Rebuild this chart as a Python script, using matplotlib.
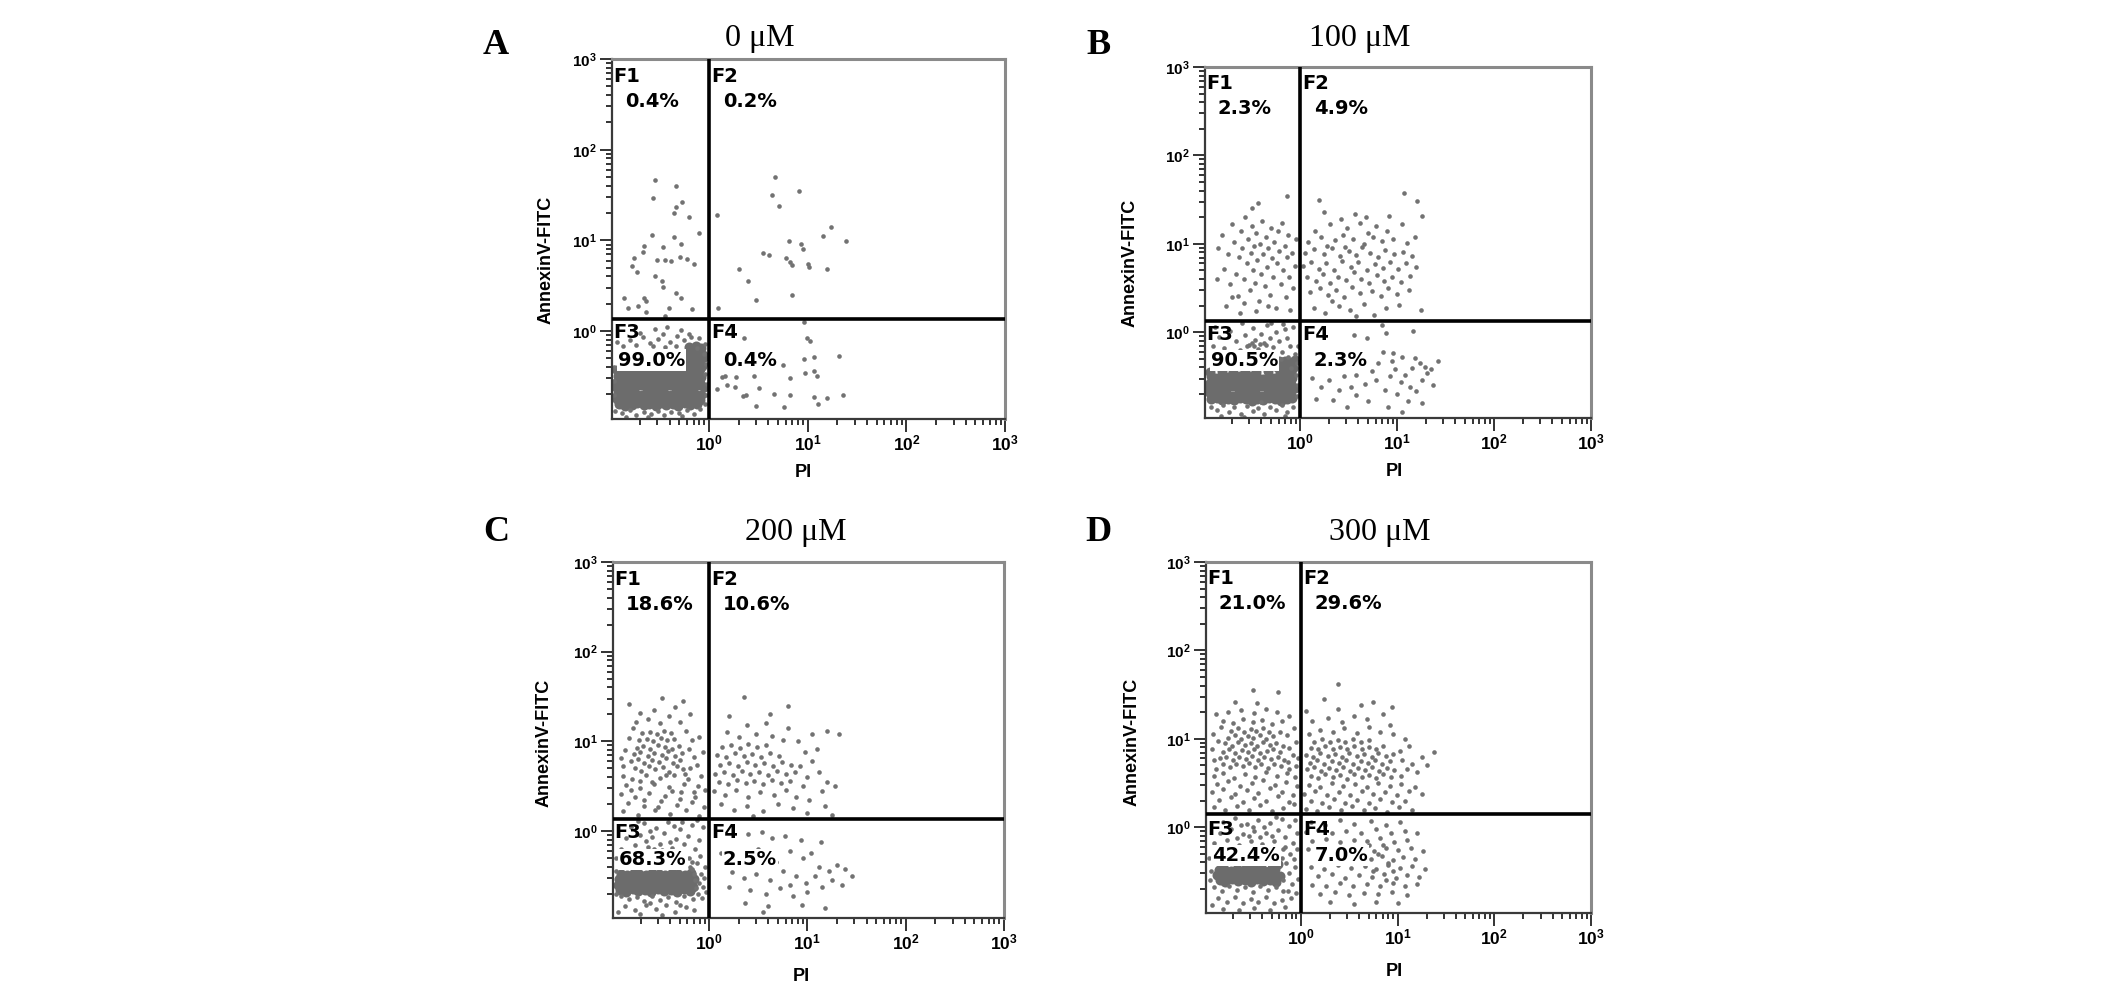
import numpy as np
import matplotlib.pyplot as plt
from matplotlib.ticker import LogLocator, NullFormatter

plt.rcParams['mathtext.fontset'] = 'custom'
plt.rcParams['mathtext.bf'] = 'Liberation Sans:bold'
plt.rcParams['mathtext.rm'] = 'Liberation Sans'

# ---------------------- DATA ----------------------
# every event is (log10 PI, log10 AnnexinV-FITC)

titles = ["0 \u03bcM", "100 \u03bcM", "200 \u03bcM", "300 \u03bcM"]
letters = ["A", "B", "C", "D"]
quadrants = ["F1", "F2", "F3", "F4"]
pct_a = ["0.4%", "0.2%", "99.0%", "0.4%"]
pct_b = ["2.3%", "4.9%", "90.5%", "2.3%"]
pct_c = ["18.6%", "10.6%", "68.3%", "2.5%"]
pct_d = ["21.0%", "29.6%", "42.4%", "7.0%"]
gate_pi = [0.0, 0.0, 0.0, 0.0]          # log10 of vertical gate
gate_annexin = [0.13, 0.13, 0.13, 0.15]  # log10 of horizontal gate

# ---- panel A (0 uM)
a_f1 = [(-0.55,1.67),(-0.33,1.60),(-0.57,1.47),(-0.27,1.42),(-0.33,1.37),(-0.35,1.30),(-0.20,1.26),
        (-0.10,1.08),(-0.58,1.06),(-0.35,1.04),(-0.66,0.94),(-0.46,0.93),(-0.28,0.96),(-0.76,0.81),
        (-0.67,0.87),(-0.53,0.78),(-0.44,0.78),(-0.38,0.77),(-0.29,0.82),(-0.22,0.80),(-0.15,0.74),
        (-0.78,0.72),(-0.73,0.65),(-0.55,0.61),(-0.47,0.55),(-0.46,0.49),(-0.33,0.42),(-0.28,0.37),
        (-0.86,0.37),(-0.66,0.37),(-0.64,0.33),(-0.82,0.25),(-0.72,0.28),(-0.40,0.25),(-0.17,0.24),
        (-0.64,0.21),(-0.44,0.17)]
a_f2 = [(0.08,1.28),(0.67,1.70),(0.64,1.50),(0.71,1.38),(0.91,1.54),(1.24,1.15),(1.16,1.05),(1.39,0.99),
        (0.81,0.99),(0.93,0.96),(0.95,0.91),(0.55,0.86),(0.61,0.84),(0.78,0.81),(0.82,0.76),(0.84,0.73),
        (1.00,0.74),(1.01,0.71),(1.20,0.68),(0.31,0.68),(0.40,0.55),(0.48,0.34),(0.84,0.40),(0.09,0.25)]
a_f4 = [(0.36,-0.08),(0.99,-0.08),(1.02,-0.11),(1.06,-0.29),(0.96,-0.31),(1.32,-0.27),(0.75,-0.37),
        (0.16,-0.49),(0.13,-0.51),(0.27,-0.51),(0.46,-0.50),(0.18,-0.60),(0.08,-0.64),(0.26,-0.62),
        (0.51,-0.63),(0.82,-0.52),(0.97,-0.46),(1.06,-0.44),(1.09,-0.49),(0.35,-0.72),(0.38,-0.70),
        (0.66,-0.69),(0.82,-0.71),(1.06,-0.73),(1.20,-0.74),(1.36,-0.70),(0.48,-0.83),(0.76,-0.84),
        (1.10,-0.80),(0.96,0.10)]
a_f3 = [(-0.95,-0.88),(-0.88,-0.90),(-0.80,-0.87),(-0.74,-0.92),(-0.66,-0.89),(-0.59,-0.91),(-0.51,-0.88),
        (-0.45,-0.93),(-0.38,-0.89),(-0.30,-0.90),(-0.22,-0.87),(-0.15,-0.91),(-0.09,-0.86),(-0.04,-0.80),
        (-0.03,-0.70),(-0.02,-0.58),(-0.04,-0.47),(-0.03,-0.36),(-0.05,-0.25),(-0.04,-0.14),(-0.10,-0.08),
        (-0.18,-0.06),(-0.25,-0.10),(-0.32,-0.05),(-0.39,-0.12),(-0.46,-0.03),(-0.52,-0.09),(-0.60,-0.13),
        (-0.67,-0.06),(-0.74,-0.15),(-0.80,-0.10),(-0.87,-0.16),(-0.93,-0.12),(-0.55,0.02),(-0.42,0.05),
        (-0.28,0.01),(-0.70,-0.02),(-0.96,-0.70),(-0.96,-0.55),(-0.96,-0.40),(-0.57,-0.17),(-0.44,-0.18),
        (-0.33,-0.16),(-0.20,-0.03),(-0.12,-0.19),(-0.84,-0.95),(-0.62,-0.95),(-0.27,-0.94)]
a_f3_dense = [
    (-0.91,-0.80),(-0.85,-0.83),(-0.78,-0.81),(-0.73,-0.79),(-0.66,-0.82),(-0.61,-0.80),(-0.54,-0.83),
    (-0.48,-0.79),(-0.43,-0.82),(-0.36,-0.80),(-0.31,-0.83),(-0.24,-0.79),(-0.19,-0.81),(-0.12,-0.80),
    (-0.93,-0.75),(-0.87,-0.73),(-0.81,-0.76),(-0.75,-0.74),(-0.69,-0.76),(-0.63,-0.73),(-0.57,-0.75),
    (-0.51,-0.77),(-0.45,-0.74),(-0.39,-0.76),(-0.33,-0.73),(-0.27,-0.75),(-0.21,-0.77),(-0.15,-0.74),
    (-0.09,-0.76),(-0.92,-0.68),(-0.86,-0.70),(-0.80,-0.67),(-0.74,-0.69),(-0.68,-0.71),(-0.62,-0.68),
    (-0.56,-0.70),(-0.50,-0.67),(-0.44,-0.69),(-0.38,-0.71),(-0.32,-0.68),(-0.26,-0.70),(-0.20,-0.67),
    (-0.14,-0.69),(-0.08,-0.70),(-0.94,-0.62),(-0.88,-0.64),(-0.82,-0.61),(-0.76,-0.63),(-0.70,-0.60),
    (-0.64,-0.62),(-0.58,-0.64),(-0.52,-0.61),(-0.46,-0.63),(-0.40,-0.60),(-0.34,-0.62),(-0.28,-0.64),
    (-0.22,-0.61),(-0.16,-0.63),(-0.10,-0.60),(-0.05,-0.62),(-0.93,-0.56),(-0.87,-0.54),(-0.81,-0.57),
    (-0.75,-0.55),(-0.69,-0.57),(-0.63,-0.54),(-0.57,-0.56),(-0.51,-0.58),(-0.45,-0.55),(-0.39,-0.57),
    (-0.33,-0.54),(-0.27,-0.56),(-0.21,-0.58),(-0.15,-0.55),(-0.09,-0.57),(-0.92,-0.49),(-0.86,-0.51),
    (-0.80,-0.48),(-0.74,-0.50),(-0.68,-0.52),(-0.62,-0.49),(-0.56,-0.51),(-0.50,-0.48),(-0.44,-0.50),
    (-0.38,-0.52),(-0.32,-0.49),(-0.26,-0.51),(-0.20,-0.48),(-0.14,-0.50),(-0.08,-0.51),(-0.93,-0.43),
    (-0.87,-0.45),(-0.81,-0.42),(-0.75,-0.44),(-0.69,-0.43),(-0.63,-0.45),(-0.57,-0.42),(-0.51,-0.44),
    (-0.45,-0.43),(-0.39,-0.45),(-0.33,-0.42),(-0.27,-0.44),(-0.21,-0.43),(-0.15,-0.45),(-0.09,-0.42),
    (-0.24,-0.37),(-0.18,-0.39),(-0.12,-0.36),(-0.07,-0.38),(-0.22,-0.31),(-0.16,-0.30),(-0.10,-0.32),
    (-0.05,-0.29),(-0.23,-0.24),(-0.17,-0.25),(-0.11,-0.23),(-0.06,-0.26),(-0.20,-0.18),(-0.13,-0.17),
    (-0.08,-0.19)]

# ---- panel B (100 uM)
b_f1 = [(-0.85,0.95),(-0.80,1.10),(-0.78,0.72),(-0.74,0.88),(-0.72,0.55),(-0.70,1.22),(-0.68,1.02),
        (-0.66,0.66),(-0.64,0.41),(-0.63,0.85),(-0.61,1.15),(-0.60,0.95),(-0.58,0.60),(-0.57,1.30),
        (-0.55,0.78),(-0.54,1.05),(-0.52,0.48),(-0.51,0.90),(-0.50,1.20),(-0.49,0.70),(-0.47,0.98),
        (-0.46,0.56),(-0.45,1.12),(-0.44,0.82),(-0.42,0.35),(-0.41,1.00),(-0.40,0.66),(-0.39,1.26),
        (-0.38,0.88),(-0.36,0.52),(-0.35,1.08),(-0.34,0.74),(-0.33,0.95),(-0.31,0.42),(-0.30,1.18),
        (-0.29,0.84),(-0.28,0.62),(-0.27,1.02),(-0.25,0.28),(-0.24,0.78),(-0.23,1.14),(-0.22,0.92),
        (-0.20,0.55),(-0.19,1.24),(-0.18,0.70),(-0.16,0.98),(-0.15,0.40),(-0.14,0.85),(-0.12,1.10),
        (-0.11,0.62),(-0.10,0.25),(-0.08,0.90),(-0.07,0.50),(-0.05,0.75),(-0.04,1.05),(-0.62,0.22),
        (-0.45,0.24),(-0.33,0.30),(-0.76,0.30),(-0.86,0.60),(-0.43,1.46),(-0.14,1.54),(-0.50,1.40),
        (-0.70,0.40),(-0.58,0.33)]
b_f2 = [(0.20,1.50),(1.07,1.58),(1.21,1.48),(0.25,1.36),(0.57,1.34),(0.68,1.30),(0.92,1.32),(1.26,1.31),
        (0.42,1.28),(0.31,1.22),(0.48,1.18),(0.62,1.24),(0.78,1.20),(0.90,1.15),(1.05,1.22),(0.15,1.15),
        (0.70,1.12),(0.08,1.02),(0.22,1.08),(0.36,1.04),(0.44,1.10),(0.55,1.06),(0.66,1.00),(0.75,1.08),
        (0.84,1.03),(0.96,1.06),(1.10,1.01),(1.18,1.08),(0.28,0.98),(0.05,0.90),(0.14,0.94),(0.25,0.88),
        (0.33,0.95),(0.41,0.86),(0.50,0.92),(0.58,0.87),(0.64,0.96),(0.72,0.90),(0.80,0.85),(0.88,0.93),
        (0.97,0.88),(1.06,0.91),(1.15,0.86),(0.46,0.97),(0.03,0.75),(0.11,0.80),(0.19,0.72),(0.27,0.78),
        (0.35,0.70),(0.43,0.81),(0.52,0.74),(0.60,0.79),(0.69,0.71),(0.77,0.77),(0.85,0.73),(0.93,0.80),
        (1.01,0.72),(1.09,0.78),(1.20,0.74),(0.56,0.68),(0.07,0.62),(0.16,0.58),(0.24,0.66),(0.31,0.56),
        (0.39,0.63),(0.47,0.59),(0.63,0.60),(0.71,0.56),(0.79,0.65),(0.87,0.58),(0.95,0.63),(1.04,0.57),
        (1.13,0.64),(0.10,0.45),(0.21,0.50),(0.29,0.42),(0.37,0.48),(0.45,0.40),(0.54,0.51),(0.62,0.44),
        (0.74,0.47),(0.83,0.41),(0.91,0.50),(1.00,0.43),(1.12,0.48),(0.14,0.28),(0.26,0.22),(0.40,0.30),
        (0.51,0.25),(0.66,0.32),(0.76,0.20),(0.89,0.27),(1.02,0.31),(0.58,0.18),(0.33,0.35),(1.25,0.25)]
b_f4 = [(0.85,-0.22),(0.96,-0.24),(1.05,-0.28),(1.18,-0.29),(1.24,-0.35),(1.29,-0.39),(1.35,-0.41),
        (1.42,-0.33),(0.12,-0.52),(0.30,-0.54),(0.45,-0.50),(0.52,-0.62),(0.67,-0.58),(0.78,-0.54),
        (0.93,-0.50),(1.04,-0.56),(1.13,-0.62),(1.26,-0.54),(1.31,-0.46),(0.16,-0.75),(0.34,-0.77),
        (0.58,-0.71),(0.91,-0.84),(1.11,-0.78),(1.26,-0.80),(0.89,-0.01),(0.84,0.08),(1.16,0.01),
        (0.56,-0.03),(0.69,-0.06),(0.62,-0.40),(0.74,-0.44),(0.98,-0.42),(1.08,-0.48),(0.88,-0.65),
        (1.00,-0.70),(1.20,-0.66),(0.40,-0.65),(0.22,-0.62),(0.70,-0.78),(0.80,-0.35),(1.15,-0.40),
        (0.95,-0.33),(0.58,-0.48),(0.28,-0.40),(1.37,-0.60),(0.48,-0.84),(1.05,-0.90)]
b_f3 = [(-0.92,-0.84),(-0.86,-0.88),(-0.79,-0.82),(-0.73,-0.90),(-0.68,-0.85),(-0.61,-0.92),(-0.55,-0.83),
        (-0.49,-0.89),(-0.43,-0.86),(-0.37,-0.93),(-0.31,-0.84),(-0.25,-0.88),(-0.19,-0.82),(-0.13,-0.90),
        (-0.07,-0.85),(-0.82,-0.95),(-0.58,-0.96),(-0.40,-0.79),(-0.16,-0.95),(-0.03,-0.72),(-0.02,-0.60),
        (-0.04,-0.48),(-0.03,-0.35),(-0.05,-0.25),(-0.02,-0.15),(-0.90,-0.15),(-0.84,-0.05),(-0.78,-0.18),
        (-0.72,0.02),(-0.66,-0.10),(-0.62,-0.20),(-0.57,-0.03),(-0.53,-0.14),(-0.49,0.05),(-0.46,-0.09),
        (-0.43,-0.19),(-0.40,-0.02),(-0.37,-0.12),(-0.34,0.08),(-0.31,-0.06),(-0.28,-0.17),(-0.25,0.00),
        (-0.22,-0.10),(-0.19,-0.22),(-0.16,0.04),(-0.13,-0.07),(-0.10,-0.16),(-0.07,0.06),(-0.50,-0.12),
        (-0.41,-0.13),(-0.55,-0.16),(-0.47,-0.15),(-0.35,-0.14),(-0.60,0.10),(-0.30,0.11),(-0.18,0.09),
        (-0.88,0.06),(-0.64,-0.26),(-0.20,-0.30),(-0.12,-0.28),(-0.09,-0.40)]
b_f3_dense = [
    (-0.92,-0.76),(-0.86,-0.74),(-0.80,-0.77),(-0.74,-0.75),(-0.68,-0.77),(-0.62,-0.74),(-0.56,-0.76),
    (-0.50,-0.78),(-0.44,-0.75),(-0.38,-0.77),(-0.32,-0.74),(-0.26,-0.76),(-0.20,-0.78),(-0.14,-0.75),
    (-0.08,-0.74),(-0.93,-0.69),(-0.87,-0.71),(-0.81,-0.68),(-0.75,-0.70),(-0.69,-0.72),(-0.63,-0.69),
    (-0.57,-0.71),(-0.51,-0.68),(-0.45,-0.70),(-0.39,-0.72),(-0.33,-0.69),(-0.27,-0.71),(-0.21,-0.68),
    (-0.15,-0.70),(-0.09,-0.71),(-0.94,-0.63),(-0.88,-0.65),(-0.82,-0.62),(-0.76,-0.64),(-0.70,-0.61),
    (-0.64,-0.63),(-0.58,-0.65),(-0.52,-0.62),(-0.46,-0.64),(-0.40,-0.61),(-0.34,-0.63),(-0.28,-0.65),
    (-0.22,-0.62),(-0.16,-0.64),(-0.10,-0.61),(-0.05,-0.63),(-0.93,-0.57),(-0.87,-0.55),(-0.81,-0.58),
    (-0.75,-0.56),(-0.69,-0.58),(-0.63,-0.55),(-0.57,-0.57),(-0.51,-0.59),(-0.45,-0.56),(-0.39,-0.58),
    (-0.33,-0.55),(-0.27,-0.57),(-0.21,-0.59),(-0.15,-0.56),(-0.09,-0.58),(-0.92,-0.50),(-0.86,-0.52),
    (-0.80,-0.49),(-0.74,-0.51),(-0.68,-0.53),(-0.62,-0.50),(-0.56,-0.52),(-0.50,-0.49),(-0.44,-0.51),
    (-0.38,-0.53),(-0.32,-0.50),(-0.26,-0.52),(-0.20,-0.49),(-0.14,-0.51),(-0.08,-0.52),(-0.93,-0.45),
    (-0.81,-0.44),(-0.69,-0.45),(-0.57,-0.44),(-0.45,-0.45),(-0.33,-0.44),(-0.21,-0.45),(-0.15,-0.44),
    (-0.09,-0.45),(-0.24,-0.39),(-0.18,-0.41),(-0.12,-0.38),(-0.07,-0.40),(-0.22,-0.33),(-0.16,-0.32),
    (-0.10,-0.34),(-0.05,-0.31)]

# ---- panel C (200 uM)
c_f1 = [(-0.76,0.70),(-0.69,0.67),(-0.61,0.72),(-0.55,0.69),(-0.47,0.71),(-0.41,0.66),(-0.33,0.73),
        (-0.27,0.69),(-0.80,0.78),(-0.72,0.80),(-0.66,0.76),(-0.58,0.79),(-0.51,0.77),(-0.44,0.81),
        (-0.37,0.76),(-0.30,0.79),(-0.77,0.86),(-0.70,0.88),(-0.62,0.84),(-0.56,0.87),(-0.48,0.85),
        (-0.42,0.89),(-0.35,0.84),(-0.28,0.87),(-0.74,0.93),(-0.67,0.95),(-0.60,0.92),(-0.52,0.96),
        (-0.45,0.94),(-0.38,0.91),(-0.31,0.95),(-0.71,1.01),(-0.63,1.03),(-0.57,1.00),(-0.49,1.04),
        (-0.43,1.01),(-0.36,1.03),(-0.68,1.09),(-0.60,1.11),(-0.53,1.08),(-0.46,1.12),(-0.39,1.09),
        (-0.88,0.22),(-0.72,0.18),(-0.55,0.24),(-0.40,0.19),(-0.24,0.23),(-0.10,0.17),(-0.83,0.31),
        (-0.66,0.28),(-0.49,0.33),(-0.33,0.29),(-0.18,0.32),(-0.05,0.27),(-0.90,0.41),(-0.76,0.38),
        (-0.61,0.42),(-0.45,0.39),(-0.29,0.43),(-0.14,0.38),(-0.85,0.51),(-0.70,0.48),(-0.56,0.52),
        (-0.41,0.49),(-0.26,0.53),(-0.11,0.50),(-0.04,0.46),(-0.88,0.61),(-0.79,0.58),(-0.64,0.62),
        (-0.50,0.59),(-0.36,0.62),(-0.22,0.58),(-0.08,0.61),(-0.20,0.70),(-0.15,0.83),(-0.21,0.92),
        (-0.12,0.74),(-0.06,0.88),(-0.17,1.02),(-0.24,1.12),(-0.10,1.05),(-0.88,0.72),(-0.86,0.90),
        (-0.82,1.04),(-0.90,0.82),(-0.78,1.15),(-0.75,1.22),(-0.62,1.25),(-0.50,1.20),(-0.41,1.28),
        (-0.30,1.22),(-0.56,1.35),(-0.35,1.38),(-0.48,1.48),(-0.70,1.32),(-0.82,1.42),(-0.20,1.30),
        (-0.27,1.45),(-0.66,0.35),(-0.38,0.45),(-0.58,0.55),(-0.30,0.36),(-0.80,0.46),(-0.15,0.44),
        (-0.52,0.27),(-0.44,0.62),(-0.25,0.64),(-0.70,0.56)]
c_f2 = [(0.10,0.55),(0.19,0.53),(0.28,0.57),(0.37,0.54),(0.46,0.56),(0.55,0.52),(0.64,0.57),(0.73,0.54),
        (0.82,0.56),(0.06,0.64),(0.15,0.66),(0.24,0.63),(0.33,0.67),(0.42,0.64),(0.51,0.66),(0.60,0.62),
        (0.69,0.67),(0.78,0.64),(0.87,0.66),(0.11,0.74),(0.20,0.76),(0.29,0.73),(0.38,0.77),(0.47,0.74),
        (0.56,0.76),(0.65,0.73),(0.74,0.77),(0.83,0.74),(0.08,0.85),(0.17,0.83),(0.26,0.87),(0.35,0.84),
        (0.44,0.86),(0.53,0.83),(0.62,0.87),(0.71,0.84),(0.13,0.94),(0.22,0.96),(0.31,0.93),(0.40,0.97),
        (0.49,0.94),(0.58,0.96),(0.92,0.72),(1.00,0.60),(1.05,0.78),(0.95,0.50),(1.12,0.66),(1.20,0.55),
        (1.15,0.45),(1.28,0.50),(0.98,0.88),(1.10,0.92),(0.90,1.00),(0.75,1.02),(0.64,1.06),(0.48,1.08),
        (0.30,1.05),(0.18,1.10),(0.38,1.18),(0.58,1.20),(0.80,1.15),(1.05,1.08),(1.32,1.08),(1.20,1.12),
        (0.35,1.50),(0.80,1.40),(0.20,1.28),(0.62,1.30),(0.05,0.45),(0.16,0.40),(0.27,0.46),(0.40,0.38),
        (0.52,0.44),(0.66,0.40),(0.78,0.46),(0.88,0.38),(1.02,0.35),(0.12,0.30),(0.25,0.24),(0.38,0.28),
        (0.55,0.22),(0.70,0.30),(0.85,0.26),(1.00,0.20),(1.18,0.28),(0.45,0.17),(1.25,0.18)]
c_f4 = [(0.39,-0.03),(0.54,-0.01),(0.64,-0.08),(0.77,-0.05),(0.93,-0.10),(1.14,-0.12),(0.50,-0.20),
        (0.82,-0.22),(1.04,-0.24),(0.23,-0.46),(0.35,-0.52),(0.48,-0.48),(0.62,-0.55),(0.75,-0.44),
        (0.88,-0.50),(0.99,-0.58),(1.12,-0.40),(1.22,-0.45),(1.30,-0.38),(1.38,-0.42),(1.25,-0.55),
        (0.20,-0.62),(0.42,-0.66),(0.58,-0.70),(0.72,-0.64),(0.85,-0.72),(1.00,-0.68),(1.15,-0.62),
        (0.36,-0.80),(0.60,-0.84),(0.94,-0.82),(1.18,-0.86),(0.28,-0.32),(0.68,-0.35),(0.95,-0.30),
        (1.35,-0.60),(0.12,-0.25),(0.82,-0.60),(0.45,-0.38),(1.08,-0.50),(1.45,-0.50),(0.15,-0.40),
        (0.55,-0.90)]
c_f3 = [(-0.18,-0.42),(-0.12,-0.36),(-0.08,-0.48),(-0.14,-0.55),(-0.06,-0.62),(-0.11,-0.70),(-0.17,-0.34),
        (-0.04,-0.40),(-0.09,-0.28),(-0.20,-0.40),(-0.15,-0.48),(-0.10,-0.58),(-0.05,-0.52),(-0.13,-0.64),
        (-0.21,-0.30),(-0.07,-0.75),(-0.16,-0.76),(-0.03,-0.68),(-0.90,-0.72),(-0.82,-0.76),(-0.74,-0.73),
        (-0.66,-0.78),(-0.58,-0.72),(-0.50,-0.77),(-0.42,-0.74),(-0.34,-0.79),(-0.26,-0.72),(-0.86,-0.84),
        (-0.76,-0.88),(-0.64,-0.83),(-0.54,-0.87),(-0.44,-0.82),(-0.35,-0.90),(-0.24,-0.85),(-0.70,-0.93),
        (-0.48,-0.94),(-0.15,-0.88),(-0.93,-0.90),(-0.60,-0.80),(-0.30,-0.82),(-0.90,-0.20),(-0.85,-0.08),
        (-0.80,0.05),(-0.76,-0.16),(-0.70,-0.04),(-0.66,0.09),(-0.62,-0.18),(-0.58,-0.07),(-0.54,0.03),
        (-0.50,-0.14),(-0.46,-0.02),(-0.42,0.10),(-0.38,-0.19),(-0.34,-0.09),(-0.30,0.02),(-0.26,-0.15),
        (-0.22,-0.05),(-0.18,0.07),(-0.14,-0.20),(-0.10,-0.10),(-0.06,0.04),(-0.56,-0.20),(-0.48,-0.21),
        (-0.40,-0.12),(-0.32,-0.22),(-0.64,-0.11),(-0.72,0.11),(-0.28,0.10),(-0.12,0.12),(-0.44,-0.25),
        (-0.60,0.00),(-0.36,0.06),(-0.95,-0.70),(-0.95,-0.45),(-0.95,-0.30)]
c_f3_dense = [
    (-0.91,-0.66),(-0.85,-0.68),(-0.78,-0.65),(-0.72,-0.67),(-0.65,-0.66),(-0.59,-0.68),(-0.52,-0.65),
    (-0.46,-0.67),(-0.39,-0.66),(-0.33,-0.68),(-0.26,-0.65),(-0.20,-0.67),(-0.93,-0.60),(-0.87,-0.59),
    (-0.81,-0.61),(-0.74,-0.59),(-0.68,-0.60),(-0.61,-0.62),(-0.55,-0.59),(-0.48,-0.61),(-0.42,-0.60),
    (-0.35,-0.59),(-0.29,-0.61),(-0.22,-0.60),(-0.16,-0.62),(-0.92,-0.54),(-0.86,-0.55),(-0.79,-0.53),
    (-0.73,-0.54),(-0.66,-0.56),(-0.60,-0.53),(-0.53,-0.55),(-0.47,-0.54),(-0.40,-0.53),(-0.34,-0.55),
    (-0.27,-0.54),(-0.21,-0.56),(-0.15,-0.53),(-0.90,-0.48),(-0.84,-0.49),(-0.77,-0.47),(-0.71,-0.48),
    (-0.64,-0.49),(-0.58,-0.47),(-0.51,-0.48),(-0.45,-0.49),(-0.38,-0.47),(-0.32,-0.48),(-0.25,-0.49),
    (-0.19,-0.47)]

# ---- panel D (300 uM)
d_f1 = [(-0.80,0.71),(-0.73,0.68),(-0.67,0.72),(-0.60,0.69),(-0.54,0.73),(-0.47,0.68),(-0.41,0.71),
        (-0.34,0.67),(-0.28,0.72),(-0.21,0.69),(-0.84,0.78),(-0.77,0.80),(-0.70,0.76),(-0.64,0.79),
        (-0.57,0.77),(-0.51,0.81),(-0.44,0.76),(-0.38,0.80),(-0.31,0.77),(-0.24,0.79),(-0.17,0.76),
        (-0.81,0.85),(-0.74,0.88),(-0.68,0.84),(-0.61,0.87),(-0.55,0.85),(-0.48,0.88),(-0.42,0.84),
        (-0.35,0.86),(-0.29,0.89),(-0.22,0.85),(-0.78,0.95),(-0.71,0.92),(-0.65,0.96),(-0.58,0.93),
        (-0.52,0.95),(-0.45,0.92),(-0.39,0.96),(-0.32,0.93),(-0.26,0.95),(-0.19,0.92),(-0.75,1.01),
        (-0.68,1.04),(-0.62,1.00),(-0.55,1.03),(-0.49,1.01),(-0.42,1.04),(-0.36,1.00),(-0.29,1.03),
        (-0.72,1.09),(-0.65,1.12),(-0.59,1.08),(-0.52,1.11),(-0.46,1.09),(-0.39,1.12),(-0.33,1.08),
        (-0.90,0.23),(-0.78,0.19),(-0.66,0.24),(-0.54,0.20),(-0.42,0.25),(-0.30,0.18),(-0.18,0.22),
        (-0.07,0.26),(-0.85,0.31),(-0.72,0.34),(-0.60,0.29),(-0.48,0.33),(-0.36,0.30),(-0.24,0.35),
        (-0.12,0.29),(-0.92,0.40),(-0.80,0.43),(-0.68,0.38),(-0.56,0.42),(-0.44,0.39),(-0.32,0.44),
        (-0.20,0.40),(-0.08,0.37),(-0.87,0.49),(-0.75,0.52),(-0.63,0.47),(-0.51,0.50),(-0.39,0.53),
        (-0.27,0.48),(-0.15,0.51),(-0.04,0.47),(-0.90,0.58),(-0.80,0.61),(-0.69,0.56),(-0.58,0.60),
        (-0.47,0.57),(-0.36,0.62),(-0.25,0.58),(-0.14,0.61),(-0.06,0.57),(-0.88,0.66),(-0.12,0.66),
        (-0.05,0.69),(-0.13,0.74),(-0.08,0.82),(-0.12,0.90),(-0.05,0.97),(-0.14,1.04),(-0.07,1.12),
        (-0.22,1.08),(-0.03,0.78),(-0.90,0.76),(-0.92,0.88),(-0.86,0.98),(-0.91,1.06),(-0.83,1.13),
        (-0.80,1.20),(-0.70,1.18),(-0.60,1.22),(-0.50,1.19),(-0.40,1.21),(-0.30,1.17),(-0.20,1.20),
        (-0.75,1.30),(-0.62,1.33),(-0.48,1.29),(-0.36,1.34),(-0.25,1.30),(-0.12,1.26),(-0.68,1.42),
        (-0.45,1.40),(-0.49,1.55),(-0.24,1.53),(-0.88,1.28)]
d_f2 = [(0.10,0.58),(0.18,0.56),(0.25,0.60),(0.33,0.57),(0.40,0.59),(0.48,0.55),(0.55,0.60),(0.63,0.57),
        (0.70,0.59),(0.78,0.56),(0.85,0.60),(0.93,0.57),(0.06,0.66),(0.14,0.68),(0.21,0.64),(0.29,0.67),
        (0.36,0.65),(0.44,0.68),(0.51,0.64),(0.59,0.67),(0.66,0.65),(0.74,0.68),(0.81,0.64),(0.89,0.67),
        (0.96,0.65),(0.09,0.73),(0.17,0.76),(0.24,0.72),(0.32,0.75),(0.39,0.73),(0.47,0.76),(0.54,0.72),
        (0.62,0.75),(0.69,0.73),(0.77,0.76),(0.84,0.72),(0.92,0.75),(0.05,0.82),(0.13,0.80),(0.20,0.84),
        (0.28,0.81),(0.35,0.83),(0.43,0.80),(0.50,0.84),(0.58,0.81),(0.65,0.83),(0.73,0.80),(0.80,0.84),
        (0.88,0.81),(0.95,0.83),(0.10,0.90),(0.18,0.88),(0.25,0.92),(0.33,0.89),(0.40,0.91),(0.48,0.88),
        (0.55,0.92),(0.63,0.89),(0.70,0.91),(0.78,0.88),(0.85,0.92),(0.14,0.97),(0.22,1.00),(0.30,0.96),
        (0.38,0.99),(0.46,0.97),(0.54,1.00),(0.62,0.96),(0.70,0.99),(0.05,0.21),(0.17,0.18),(0.29,0.23),
        (0.41,0.19),(0.53,0.24),(0.65,0.20),(0.77,0.22),(0.89,0.17),(1.01,0.23),(1.15,0.19),(0.10,0.30),
        (0.22,0.27),(0.34,0.32),(0.46,0.28),(0.58,0.31),(0.70,0.27),(0.82,0.32),(0.94,0.29),(1.08,0.30),
        (0.03,0.38),(0.15,0.41),(0.27,0.37),(0.39,0.40),(0.51,0.36),(0.63,0.41),(0.75,0.38),(0.87,0.40),
        (0.99,0.37),(1.12,0.41),(1.25,0.38),(0.08,0.48),(0.20,0.46),(0.32,0.50),(0.44,0.47),(0.56,0.49),
        (0.68,0.45),(0.80,0.50),(0.92,0.47),(1.04,0.49),(1.18,0.46),(1.03,0.58),(1.10,0.66),(1.05,0.76),
        (1.15,0.72),(1.02,0.86),(1.12,0.92),(1.20,0.62),(1.25,0.80),(1.08,1.00),(0.95,1.05),(1.30,0.70),
        (1.38,0.85),(0.08,1.06),(0.20,1.10),(0.33,1.08),(0.45,1.12),(0.58,1.07),(0.70,1.13),(0.82,1.08),
        (0.92,1.16),(0.12,1.20),(0.28,1.24),(0.42,1.19),(0.55,1.26),(0.68,1.22),(0.85,1.28),(0.05,1.32),
        (0.38,1.34),(0.62,1.38),(0.94,1.36),(0.24,1.45),(0.75,1.42),(0.38,1.62)]
d_f4 = [(0.10,0.06),(0.25,0.03),(0.40,0.08),(0.55,0.04),(0.72,0.07),(0.88,0.02),(1.02,0.06),(0.05,-0.05),
        (0.18,-0.03),(0.32,-0.07),(0.47,-0.04),(0.62,-0.06),(0.78,-0.02),(0.93,-0.07),(1.08,-0.04),
        (1.20,-0.06),(0.12,-0.15),(0.26,-0.13),(0.40,-0.17),(0.55,-0.14),(0.68,-0.16),(0.82,-0.12),
        (0.96,-0.17),(1.10,-0.14),(0.07,-0.25),(0.20,-0.27),(0.35,-0.23),(0.50,-0.26),(0.64,-0.24),
        (0.76,-0.27),(0.88,-0.23),(1.00,-0.26),(1.14,-0.24),(1.26,-0.27),(0.15,-0.35),(0.30,-0.33),
        (0.45,-0.37),(0.60,-0.34),(0.72,-0.36),(0.84,-0.33),(0.95,-0.37),(1.06,-0.34),(1.18,-0.36),
        (0.10,-0.45),(0.24,-0.47),(0.38,-0.43),(0.52,-0.46),(0.66,-0.44),(0.78,-0.47),(0.90,-0.43),
        (1.02,-0.46),(1.15,-0.44),(1.28,-0.47),(0.18,-0.55),(0.32,-0.53),(0.46,-0.57),(0.60,-0.54),
        (0.73,-0.56),(0.86,-0.53),(0.98,-0.57),(1.10,-0.54),(1.22,-0.56),(0.12,-0.65),(0.26,-0.67),
        (0.40,-0.63),(0.54,-0.66),(0.68,-0.64),(0.82,-0.67),(0.95,-0.63),(1.08,-0.66),(1.20,-0.64),
        (0.20,-0.75),(0.35,-0.73),(0.50,-0.77),(0.65,-0.74),(0.80,-0.76),(0.94,-0.73),(1.10,-0.77),
        (0.30,-0.85),(0.55,-0.87),(0.78,-0.84),(1.00,-0.86),(0.70,-0.20),(0.80,-0.30),(0.90,-0.40),
        (0.75,-0.50),(0.85,-0.20),(0.95,-0.50),(0.65,-0.40),(0.88,-0.60)]
d_f3 = [(-0.90,-0.68),(-0.82,-0.72),(-0.74,-0.67),(-0.66,-0.71),(-0.58,-0.68),(-0.50,-0.73),(-0.42,-0.67),
        (-0.34,-0.71),(-0.26,-0.68),(-0.18,-0.72),(-0.86,-0.80),(-0.76,-0.84),(-0.68,-0.79),(-0.60,-0.86),
        (-0.52,-0.81),(-0.44,-0.85),(-0.36,-0.79),(-0.28,-0.86),(-0.20,-0.82),(-0.10,-0.80),(-0.80,-0.92),
        (-0.64,-0.94),(-0.48,-0.91),(-0.32,-0.94),(-0.16,-0.90),(-0.92,-0.88),(-0.18,-0.60),(-0.12,-0.52),
        (-0.06,-0.45),(-0.15,-0.40),(-0.09,-0.64),(-0.03,-0.58),(-0.20,-0.35),(-0.11,-0.30),(-0.04,-0.25),
        (-0.16,-0.22),(-0.07,-0.36),(-0.13,-0.72),(-0.05,-0.74),(-0.94,-0.60),(-0.93,-0.50),(-0.95,-0.35),
        (-0.90,-0.18),(-0.84,-0.06),(-0.80,0.06),(-0.76,-0.14),(-0.72,-0.02),(-0.68,0.10),(-0.64,-0.20),
        (-0.60,-0.08),(-0.56,0.04),(-0.52,-0.16),(-0.48,-0.04),(-0.44,0.08),(-0.40,-0.19),(-0.36,-0.07),
        (-0.32,0.05),(-0.28,-0.15),(-0.24,-0.03),(-0.20,0.09),(-0.16,-0.11),(-0.12,0.01),(-0.08,-0.18),
        (-0.04,-0.06),(-0.06,0.08),(-0.66,-0.12),(-0.58,-0.22),(-0.54,-0.10),(-0.46,-0.23),(-0.42,-0.11),
        (-0.38,0.00),(-0.34,-0.24),(-0.30,-0.10),(-0.62,0.02),(-0.50,0.00),(-0.26,0.12),(-0.70,-0.24),
        (-0.18,-0.25)]
d_f3_dense = [
    (-0.84,-0.60),(-0.78,-0.62),(-0.71,-0.59),(-0.65,-0.61),(-0.58,-0.60),(-0.52,-0.62),(-0.45,-0.59),
    (-0.39,-0.61),(-0.32,-0.60),(-0.26,-0.62),(-0.87,-0.54),(-0.81,-0.53),(-0.74,-0.55),(-0.68,-0.53),
    (-0.61,-0.54),(-0.55,-0.56),(-0.48,-0.53),(-0.42,-0.55),(-0.35,-0.53),(-0.29,-0.54),(-0.22,-0.55),
    (-0.85,-0.48),(-0.79,-0.47),(-0.72,-0.49),(-0.66,-0.47),(-0.59,-0.48),(-0.53,-0.46),(-0.46,-0.48),
    (-0.40,-0.47),(-0.33,-0.49),(-0.27,-0.47),(-0.30,-0.42),(-0.24,-0.41)]

# ---------------------- LAYOUT ----------------------
# axes rectangles in figure fractions, measured from the 2126x1002 picture
panels = [
    dict(rect=[0.2879, 0.5818, 0.1849, 0.3593], events=a_f1 + a_f2 + a_f3 + a_f4, dense=a_f3_dense,
         pct=pct_a, letter_xy=(0.2333, 0.955), title_xy=(0.3575, 0.962),
         ylab_xy=(0.2568, 0.7405), pi_xy=(0.3777, 0.528)),
    dict(rect=[0.5668, 0.5828, 0.1816, 0.3503], events=b_f1 + b_f2 + b_f3 + b_f4, dense=b_f3_dense,
         pct=pct_b, letter_xy=(0.5165, 0.955), title_xy=(0.6397, 0.962),
         ylab_xy=(0.5315, 0.7375), pi_xy=(0.6557, 0.529)),
    dict(rect=[0.2883, 0.0838, 0.1839, 0.3553], events=c_f1 + c_f2 + c_f3 + c_f4, dense=c_f3_dense,
         pct=pct_c, letter_xy=(0.2333, 0.469), title_xy=(0.3744, 0.469),
         ylab_xy=(0.2559, 0.2585), pi_xy=(0.3768, 0.025)),
    dict(rect=[0.5673, 0.0888, 0.1811, 0.3503], events=d_f1 + d_f2 + d_f3 + d_f4, dense=d_f3_dense,
         pct=pct_d, letter_xy=(0.5165, 0.469), title_xy=(0.6490, 0.469),
         ylab_xy=(0.5325, 0.2595), pi_xy=(0.6557, 0.030)),
]

DOT = '#727272'
DARK = '#333333'

fig = plt.figure(figsize=(21.26, 10.02), dpi=100)
fig.patch.set_facecolor('white')

for i, p in enumerate(panels):
    ax = fig.add_axes(p['rect'])
    ax.set_xscale('log')
    ax.set_yscale('log')
    ax.set_xlim(10 ** -0.98, 10 ** 3)
    ax.set_ylim(10 ** -0.97, 10 ** 3)

    ev = np.array(p['events'])
    core = np.array(p['dense'])
    ax.scatter(10 ** core[:, 0], 10 ** core[:, 1], s=52, c='#6c6c6c', linewidths=0, zorder=2)
    ax.scatter(10 ** ev[:, 0], 10 ** ev[:, 1], s=11, c=DOT, linewidths=0, zorder=2)

    # quadrant gates
    ax.axvline(10 ** gate_pi[i], color='black', lw=2.6, zorder=3)
    ax.axhline(10 ** gate_annexin[i], color='black', lw=2.6, zorder=3)

    # quadrant names and percentages
    box = dict(facecolor='white', edgecolor='none', pad=0.8)
    name_xy = [(-0.97, 2.81), (0.02, 2.81), (-0.97, -0.02), (0.02, -0.02)]
    pct_xy = [(-0.85, 2.53), (0.14, 2.53), (-0.92, -0.32), (0.14, -0.32)]
    for q in range(4):
        ax.text(10 ** name_xy[q][0], 10 ** name_xy[q][1], quadrants[q], fontsize=14,
                fontweight='bold', family='DejaVu Sans', va='center', ha='left', zorder=4)
        ax.text(10 ** pct_xy[q][0], 10 ** pct_xy[q][1], p['pct'][q], fontsize=14,
                fontweight='bold', family='DejaVu Sans', va='center', ha='left', zorder=4, bbox=box)

    # axes styling
    for side in ['left', 'bottom']:
        ax.spines[side].set_color('#3a3a3a')
        ax.spines[side].set_linewidth(1.6)
    for side in ['top', 'right']:
        ax.spines[side].set_color('#8a8a8a')
        ax.spines[side].set_linewidth(2.2)

    decades = [1, 10, 100, 1000]
    ax.set_xticks(decades)
    ax.set_yticks(decades)
    ax.set_xticklabels([r'$\mathbf{10^{%d}}$' % k for k in range(4)], fontsize=12.5)
    ax.set_yticklabels([r'$\mathbf{10^{%d}}$' % k for k in range(4)], fontsize=11)
    ax.xaxis.set_minor_locator(LogLocator(base=10, subs=np.arange(2, 10), numticks=20))
    ax.yaxis.set_minor_locator(LogLocator(base=10, subs=np.arange(2, 10), numticks=20))
    ax.xaxis.set_minor_formatter(NullFormatter())
    ax.yaxis.set_minor_formatter(NullFormatter())
    ax.tick_params(which='major', direction='out', length=9, width=1.4, color=DARK, pad=2)
    ax.tick_params(which='minor', direction='out', length=4, width=1.4, color=DARK)

    # panel letter, title and axis names
    fig.text(p['letter_xy'][0], p['letter_xy'][1], letters[i], fontsize=26, fontweight='bold',
             family='Liberation Serif', ha='center', va='center')
    fig.text(p['title_xy'][0], p['title_xy'][1], titles[i], fontsize=23,
             family='Liberation Serif', ha='center', va='center')
    fig.text(p['ylab_xy'][0], p['ylab_xy'][1], 'AnnexinV-FITC', fontsize=13, fontweight='bold',
             family='Liberation Sans', rotation=90, ha='center', va='center')
    fig.text(p['pi_xy'][0], p['pi_xy'][1], 'PI', fontsize=13, fontweight='bold',
             family='Liberation Sans', ha='center', va='center')

fig.savefig('out.png', dpi=100, facecolor='white')
